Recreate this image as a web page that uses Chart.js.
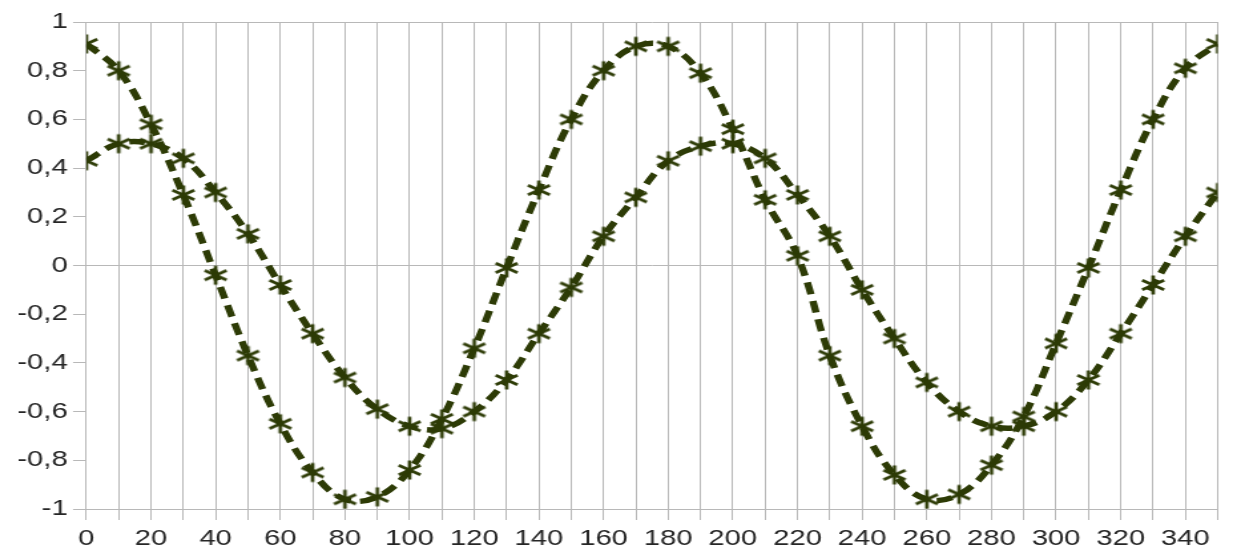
<!DOCTYPE html>
<html>
<head>
<meta charset="utf-8">
<script src="https://cdn.jsdelivr.net/npm/chart.js@4/dist/chart.umd.min.js"></script>
<style>
  html, body { margin: 0; padding: 0; background: #ffffff; overflow: hidden; }
  #wrap { width: 930px; height: 560px; transform: scaleX(1.3301); transform-origin: 0 0; }
  canvas { display: block; }
</style>
</head>
<body>
<div id="wrap"><canvas id="c" width="930" height="560"></canvas></div>
<script>
// ---- data ----
const angles = [0,10,20,30,40,50,60,70,80,90,100,110,120,130,140,150,160,170,180,190,200,210,220,230,240,250,260,270,280,290,300,310,320,330,340,350];
const seriesA = [0.91,0.80,0.58,0.29,-0.04,-0.37,-0.65,-0.85,-0.96,-0.95,-0.84,-0.63,-0.34,-0.01,0.31,0.60,0.80,0.90,0.90,0.79,0.56,0.27,0.04,-0.37,-0.66,-0.86,-0.96,-0.94,-0.82,-0.62,-0.32,-0.01,0.31,0.60,0.81,0.91];
const seriesB = [0.43,0.50,0.50,0.44,0.30,0.13,-0.08,-0.28,-0.46,-0.59,-0.66,-0.67,-0.60,-0.47,-0.28,-0.09,0.12,0.28,0.43,0.49,0.50,0.44,0.29,0.12,-0.10,-0.30,-0.48,-0.60,-0.66,-0.66,-0.60,-0.47,-0.28,-0.08,0.12,0.30];
const xTicks = [0,10,20,30,40,50,60,70,80,90,100,110,120,130,140,150,160,170,180,190,200,210,220,230,240,250,260,270,280,290,300,310,320,330,340,350];
const xTickLabels = ['0','','20','','40','','60','','80','','100','','120','','140','','160','','180','','200','','220','','240','','260','','280','','300','','320','','340',''];
const yTicks = [-1,-0.8,-0.6,-0.4,-0.2,0,0.2,0.4,0.6,0.8,1];
const yTickLabels = ['-1','-0,8','-0,6','-0,4','-0,2','0','0,2','0,4','0,6','0,8','1'];
const yGridValues = [-1,0,1];

const lineColor = '#2d3b06';
const gridColor = '#b8b8b8';

// asterisk marker (6 arms)
function makeAsterisk(r, lw, color) {
  const size = Math.ceil(2 * r + lw + 2);
  const cv = document.createElement('canvas');
  cv.width = size; cv.height = size;
  const g = cv.getContext('2d');
  g.strokeStyle = color; g.lineWidth = lw; g.lineCap = 'butt';
  const c = size / 2;
  [90, 30, 150].forEach(deg => {
    const a = deg * Math.PI / 180;
    const dx = Math.cos(a) * r, dy = Math.sin(a) * r;
    g.beginPath(); g.moveTo(c - dx, c - dy); g.lineTo(c + dx, c + dy); g.stroke();
  });
  return cv;
}
const marker = makeAsterisk(9.5, 2.7, lineColor);

function pts(vals) { return angles.map((a, i) => ({ x: a, y: vals[i] })); }

const dsCommon = {
  borderColor: lineColor,
  backgroundColor: lineColor,
  borderWidth: 5.5,
  borderDash: [12, 7],
  tension: 0.4,
  fill: false,
  pointStyle: marker,
  pointRadius: 9,
  pointHoverRadius: 9
};

new Chart(document.getElementById('c'), {
  type: 'line',
  data: {
    datasets: [
      Object.assign({ label: 'A', data: pts(seriesA) }, dsCommon),
      Object.assign({ label: 'B', data: pts(seriesB) }, dsCommon)
    ]
  },
  options: {
    responsive: false,
    animation: false,
    devicePixelRatio: 1,
    layout: { padding: { left: 9, right: 9, top: 22, bottom: 2 } },
    plugins: { legend: { display: false }, tooltip: { enabled: false } },
    scales: {
      x: {
        type: 'linear', min: 0, max: 350,
        afterBuildTicks: s => { s.ticks = xTicks.map(v => ({ value: v })); },
        ticks: {
          autoSkip: false, maxRotation: 0, minRotation: 0,
          padding: 8,
          color: '#262626',
          font: { family: '"Liberation Sans", Arial, sans-serif', size: 22, lineHeight: 1 },
          callback: (v) => { const i = xTicks.indexOf(v); return i >= 0 ? xTickLabels[i] : ''; }
        },
        grid: { color: gridColor, tickColor: gridColor, tickLength: 11, lineWidth: 1 },
        border: { display: true, color: gridColor }
      },
      y: {
        type: 'linear', min: -1, max: 1,
        afterBuildTicks: s => { s.ticks = yTicks.map(v => ({ value: v })); },
        ticks: {
          autoSkip: false, padding: 4,
          color: '#262626',
          font: { family: '"Liberation Sans", Arial, sans-serif', size: 22 },
          callback: (v) => { const i = yTicks.findIndex(t => Math.abs(t - v) < 1e-9); return i >= 0 ? yTickLabels[i] : ''; }
        },
        grid: {
          color: (ctx) => (ctx.tick && yGridValues.some(g => Math.abs(g - ctx.tick.value) < 1e-9)) ? gridColor : 'rgba(0,0,0,0)',
          tickColor: gridColor, tickLength: 10, lineWidth: 1
        },
        border: { display: true, color: gridColor }
      }
    }
  }
});
</script>
</body>
</html>
